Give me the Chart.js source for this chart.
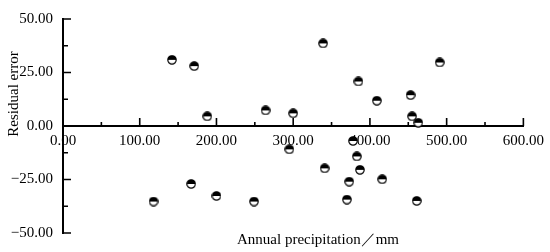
<!DOCTYPE html>
<html>
<head>
<meta charset="utf-8">
<script src="https://cdn.jsdelivr.net/npm/chart.js@4.4.1/dist/chart.umd.min.js"></script>
<style>
  html, body { margin: 0; padding: 0; background: #fff; }
  #wrap { width: 550px; height: 252px; position: relative; }
</style>
</head>
<body>
<div id="wrap"><canvas id="chart"></canvas></div>
<script>
// Annual precipitation (mm) and residual error
const precipitation = [
  142, 171, 188, 264, 300, 339, 385, 409, 453, 455, 463, 491,
  118, 167, 200, 249, 295, 378, 383, 341, 387, 373, 416, 370, 461,
];
const residual = [
  30.9, 28.0, 4.5, 7.3, 5.9, 38.6, 20.8, 11.8, 14.4, 4.5, 1.5, 29.7,
  -35.3, -27.1, -32.7, -35.3, -10.9, -7.0, -14.2, -19.8, -20.5, -26.0, -24.9, -34.4, -35.0,
];
const xTicks = [0, 100, 200, 300, 400, 500, 600];
const yTicks = [-50, -25, 0, 25, 50];

const FONT = "'Liberation Serif', 'Times New Roman', serif";

// half filled marker: black top, white bottom
function makeMarker(size) {
  const c = document.createElement("canvas");
  c.width = size;
  c.height = size;
  const g = c.getContext("2d");
  const r = size / 2 - 0.8;
  const m = size / 2;
  g.fillStyle = "#fff";
  g.beginPath();
  g.arc(m, m, r, 0, Math.PI * 2);
  g.fill();
  g.fillStyle = "#000";
  g.beginPath();
  g.arc(m, m, r, Math.PI, Math.PI * 2);
  g.closePath();
  g.fill();
  g.strokeStyle = "#000";
  g.lineWidth = 1.2;
  g.beginPath();
  g.arc(m, m, r, 0, Math.PI * 2);
  g.stroke();
  return c;
}

const fmt = (v) => (v < 0 ? "\u2212" : "") + Math.abs(v).toFixed(2);

// inward major / minor ticks, like the original plot
const tickMarks = {
  id: "tickMarks",
  beforeDatasetsDraw(chart) {
    const { ctx, scales } = chart;
    const x = scales.x;
    const y = scales.y;
    const y0 = y.getPixelForValue(0);
    const x0 = x.getPixelForValue(0);
    ctx.save();
    ctx.strokeStyle = "#000";
    ctx.lineWidth = 1.6;
    ctx.beginPath();
    for (let i = 0; i < xTicks.length; i++) {
      const px = x.getPixelForValue(xTicks[i]);
      ctx.moveTo(px, y0);
      ctx.lineTo(px, y0 - 8);
      if (i < xTicks.length - 1) {
        const mx = x.getPixelForValue((xTicks[i] + xTicks[i + 1]) / 2);
        ctx.moveTo(mx, y0);
        ctx.lineTo(mx, y0 - 4);
      }
    }
    for (let i = 0; i < yTicks.length; i++) {
      const py = y.getPixelForValue(yTicks[i]);
      ctx.moveTo(x0, py);
      ctx.lineTo(x0 + 8, py);
      if (i < yTicks.length - 1) {
        const my = y.getPixelForValue((yTicks[i] + yTicks[i + 1]) / 2);
        ctx.moveTo(x0, my);
        ctx.lineTo(x0 + 5, my);
      }
    }
    ctx.stroke();
    ctx.restore();
  },
  afterDraw(chart) {
    const { ctx } = chart;
    ctx.save();
    ctx.fillStyle = "#000";
    ctx.font = "15px " + FONT;
    ctx.textAlign = "center";
    ctx.textBaseline = "middle";
    ctx.fillText("Annual precipitation\uff0fmm", 318, 240);
    ctx.translate(14, 94);
    ctx.rotate(-Math.PI / 2);
    ctx.fillText("Residual error", 0, 0);
    ctx.restore();
  },
};

const points = precipitation.map((p, i) => ({ x: p, y: residual[i] }));

new Chart(document.getElementById("chart"), {
  type: "scatter",
  data: {
    datasets: [
      {
        data: points,
        pointStyle: makeMarker(10),
        pointRadius: 5,
        clip: false,
      },
    ],
  },
  options: {
    responsive: true,
    maintainAspectRatio: false,
    animation: false,
    layout: { padding: { left: 0, top: 12, right: 22, bottom: 19 } },
    plugins: {
      legend: { display: false },
      tooltip: { enabled: false },
    },
    scales: {
      x: {
        type: "linear",
        position: { y: 0 },
        min: 0,
        max: 600,
        afterBuildTicks: (s) => { s.ticks = xTicks.map((v) => ({ value: v })); },
        grid: { display: false, drawTicks: false },
        border: { display: true, color: "#000", width: 2 },
        ticks: {
          color: "#000",
          padding: 6,
          maxRotation: 0,
          font: { family: FONT, size: 15 },
          callback: (v) => fmt(v),
        },
      },
      y: {
        type: "linear",
        position: "left",
        min: -50,
        max: 50,
        afterBuildTicks: (s) => { s.ticks = yTicks.map((v) => ({ value: v })); },
        afterFit: (s) => { s.width = 63; },
        grid: { display: false, drawTicks: false },
        border: { display: true, color: "#000", width: 2 },
        ticks: {
          color: "#000",
          padding: 10,
          font: { family: FONT, size: 15 },
          callback: (v) => fmt(v),
        },
      },
    },
  },
  plugins: [tickMarks],
});
</script>
</body>
</html>
